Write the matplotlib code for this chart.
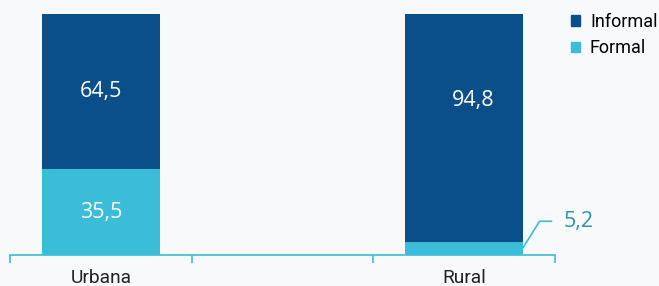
import matplotlib
matplotlib.use("Agg")
import matplotlib.pyplot as plt
from matplotlib.patches import Patch

categories = ["Urbana", "", "Rural"]
formal = [35.5, None, 5.2]
informal = [64.5, None, 94.8]
formal_labels = ["35,5", None, "5,2"]
informal_labels = ["64,5", None, "94,8"]

C_INF = "#0b4f8a"
C_FOR = "#3bbcd9"
BG = "#f8f9fb"

plt.rcParams['font.family'] = ['Roboto', 'DejaVu Sans']
VAL_FONT = ['Open Sans', 'DejaVu Sans']

fig = plt.figure(figsize=(6.59, 2.86), dpi=100, facecolor=BG)
ax = fig.add_axes([10/659, 1 - 255/286, 545/659, 241/286], facecolor=BG)

x = list(range(len(categories)))
for i in x:
    if formal[i] is None:
        continue
    ax.bar(i, formal[i], width=0.65, color=C_FOR, zorder=2)
    ax.bar(i, informal[i], width=0.65, bottom=formal[i], color=C_INF, zorder=2)
    if formal[i] > 10:
        ax.text(i, formal[i] + informal[i] / 2, informal_labels[i], color="white",
                ha="center", va="center", fontsize=15.5, family=VAL_FONT)
        ax.text(i, formal[i] / 2, formal_labels[i], color="white",
                ha="center", va="center", fontsize=15.5, family=VAL_FONT)
    else:
        ax.text(i + 0.05, formal[i] + informal[i] * 0.62, informal_labels[i], color="white",
                ha="center", va="center", fontsize=15.5, family=VAL_FONT)
        # callout
        xr = i + 0.325
        ax.plot([xr, xr + 0.09, xr + 0.155], [formal[i] * 0.6, 14.0, 14.0],
                color=C_FOR, lw=1.2, clip_on=False, zorder=3)
        ax.text(xr + 0.225, 14.0, formal_labels[i], color="#2a95ad",
                ha="left", va="center", fontsize=15.5, family=VAL_FONT)

ax.set_xlim(-0.5, len(categories) - 0.5)
ax.set_ylim(0, 100)
for s in ["top", "right", "left"]:
    ax.spines[s].set_visible(False)
ax.spines["bottom"].set_color(C_FOR)
ax.spines["bottom"].set_linewidth(1.2)
ax.set_yticks([])
ax.set_xticks([-0.5, 0.5, 1.5, 2.5])
ax.set_xticklabels([])
ax.set_xticks(x, minor=True)
ax.set_xticklabels(categories, minor=True, fontsize=13.8, color="#222222")
ax.tick_params(axis="x", which="major", length=6, color=C_FOR, width=1.2)
ax.tick_params(axis="x", which="minor", length=0, pad=10)

handles = [Patch(color=C_INF, label="Informal"), Patch(color=C_FOR, label="Formal")]
fig.legend(handles=handles, loc="upper left", bbox_to_anchor=(571/659, 1 - 13/286),
           frameon=False, fontsize=13, handlelength=0.5, handleheight=0.5,
           handletextpad=0.55, labelspacing=0.45, borderaxespad=0, borderpad=0)

fig.savefig("out.png", dpi=100, facecolor=BG)
